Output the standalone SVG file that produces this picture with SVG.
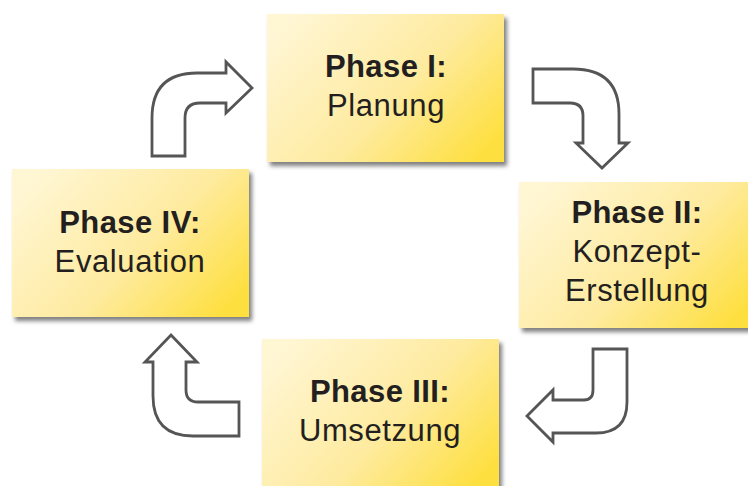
<svg xmlns="http://www.w3.org/2000/svg" width="748" height="486" viewBox="0 0 748 486">
<defs>
<linearGradient id="g" x1="0" y1="0.2" x2="1" y2="0.8" gradientUnits="objectBoundingBox">
<stop offset="0" stop-color="#fff6d4"/>
<stop offset="0.55" stop-color="#feeba0"/>
<stop offset="1" stop-color="#fedf40"/>
</linearGradient>
<filter id="sh" x="-10%" y="-10%" width="125%" height="130%">
<feDropShadow dx="3" dy="4" stdDeviation="2.2" flood-color="#555" flood-opacity="0.75"/>
</filter>
</defs>
<style>
.box{fill:url(#g);filter:url(#sh)}
.t{font-family:"Liberation Sans",Arial,sans-serif;fill:#231f20;text-anchor:middle}
.b{font-weight:bold;font-size:31px;letter-spacing:0.4px}
.r{font-size:31px;letter-spacing:0.6px}
.arr{fill:#fff;stroke:#555;stroke-width:2.8;stroke-linejoin:miter}
</style>
<rect width="748" height="486" fill="#fff"/>
<g id="connectors">
<path class="arr" d="M152,156 V118 Q152,73 197,73 H226 V62 L252,88 L226,113 V103 H200 Q185,103 185,118 V156 Z"/>
<path class="arr" d="M533,69 H573 Q619,69 619,114 V143 H628 L602,168 L576,143 H583 V116 Q583,103 570,103 H533 Z"/>
<path class="arr" d="M593,349 H627 V402 Q627,433 596,433 H553 V442 L527,416 L553,390 V400 H584 Q593,400 593,390 Z"/>
<path class="arr" d="M171,335 L197,362 H186 V390 Q186,402 198,402 H239 V436 H193 Q153,436 153,396 V362 H145 Z"/>
</g>
<g id="phase1">
<rect class="box" x="267" y="14" width="237" height="148"/>
<text class="t b" x="386" y="77">Phase I:</text>
<text class="t r" x="386" y="116">Planung</text>
</g>
<g id="phase2">
<rect class="box" x="519" y="182" width="237" height="146"/>
<text class="t b" x="637" y="223">Phase II:</text>
<text class="t r" x="637" y="262">Konzept-</text>
<text class="t r" x="637" y="301">Erstellung</text>
</g>
<g id="phase3">
<rect class="box" x="262" y="339" width="237" height="152"/>
<text class="t b" x="380" y="402">Phase III:</text>
<text class="t r" x="380" y="441">Umsetzung</text>
</g>
<g id="phase4">
<rect class="box" x="12" y="169" width="237" height="148"/>
<text class="t b" x="130" y="233">Phase IV:</text>
<text class="t r" x="130" y="272">Evaluation</text>
</g>
</svg>
